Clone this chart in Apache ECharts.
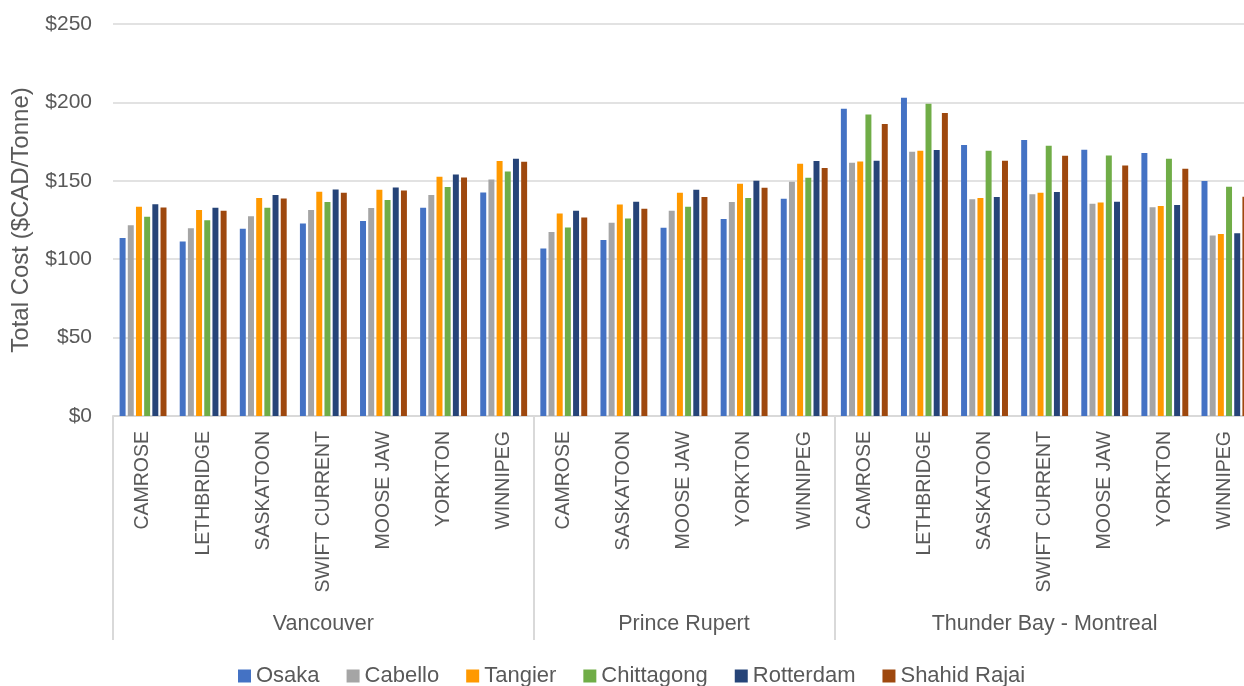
<!DOCTYPE html>
<html>
<head>
<meta charset="utf-8">
<script src="https://cdn.jsdelivr.net/npm/echarts@6/dist/echarts.min.js"></script>
<style>
  html, body { margin: 0; padding: 0; background: #fff; overflow: hidden; }
  /* a bit wider than the window: the original picture is cropped on the right */
  #chart { width: 1262px; height: 686px; }
</style>
</head>
<body>
<div id="chart"></div>
<script>
const vancouverCities = ["CAMROSE", "LETHBRIDGE", "SASKATOON", "SWIFT CURRENT", "MOOSE JAW", "YORKTON", "WINNIPEG"];
const princeRupertCities = ["CAMROSE", "SASKATOON", "MOOSE JAW", "YORKTON", "WINNIPEG"];
const thunderBayCities = ["CAMROSE", "LETHBRIDGE", "SASKATOON", "SWIFT CURRENT", "MOOSE JAW", "YORKTON", "WINNIPEG"];
const groupNames = ["Vancouver", "Prince Rupert", "Thunder Bay - Montreal"];

const yTicks = [0, 50, 100, 150, 200, 250];

const osaka      = [113.6, 111.3, 119.4, 122.8, 124.3, 132.8, 142.6, 106.8, 112.3, 120.0, 125.7, 138.5, 196.0, 203.0, 172.8, 176.0, 169.8, 167.7, 149.8];
const cabello    = [121.7, 119.8, 127.4, 131.3, 132.6, 140.9, 150.9, 117.4, 123.2, 130.9, 136.4, 149.4, 161.5, 168.5, 138.3, 141.5, 135.3, 133.2, 115.1];
const tangier    = [133.4, 131.3, 139.1, 143.0, 144.3, 152.6, 162.6, 129.1, 134.9, 142.3, 148.1, 160.9, 162.3, 169.1, 139.1, 142.3, 136.2, 134.0, 116.0];
const chittagong = [127.0, 124.9, 132.8, 136.4, 137.7, 146.0, 156.0, 120.2, 126.0, 133.4, 139.1, 151.9, 192.3, 199.1, 169.1, 172.3, 166.2, 164.0, 146.2];
const rotterdam  = [135.1, 132.8, 140.9, 144.5, 145.7, 154.0, 164.0, 130.9, 136.6, 144.3, 150.0, 162.6, 162.8, 169.6, 139.6, 142.8, 136.6, 134.5, 116.6];
const shahidRajai = [133.0, 130.9, 138.7, 142.3, 143.8, 152.1, 162.1, 126.6, 132.1, 139.6, 145.5, 158.1, 186.2, 193.2, 162.8, 166.0, 159.8, 157.7, 139.8];

const FONT = "'Liberation Sans', Arial, sans-serif";
const TEXT = "#595959";
const LINE = "#d9d9d9";

const groups = [vancouverCities, princeRupertCities, thunderBayCities];
const cities = groups.flat();

// group axis: label in middle slot of each group, ticks on the group boundaries
const groupLabels = [];
const groupStarts = [];
groups.forEach((g, i) => {
  groupStarts.push(groupLabels.length);
  g.forEach((_, j) => groupLabels.push(j === Math.floor(g.length / 2) ? groupNames[i] : ""));
});

const barSeries = (name, data, color) => ({
  name,
  type: "bar",
  data,
  itemStyle: { color },
  barGap: "37%",
  barCategoryGap: "22%",
  xAxisIndex: 0,
});

const chart = echarts.init(document.getElementById("chart"));
chart.setOption({
  animation: false,
  textStyle: { fontFamily: FONT },
  grid: { left: 113, width: 1142, top: 24, height: 392, containLabel: false },
  legend: {
    left: 238,
    top: 665,
    padding: 0,
    itemWidth: 13,
    itemHeight: 13,
    itemGap: 27,
    icon: "rect",
    textStyle: { color: TEXT, fontSize: 22, fontFamily: FONT },
  },
  xAxis: [
    {
      type: "category",
      data: cities,
      axisLine: { lineStyle: { color: LINE, width: 2 } },
      axisTick: { show: false },
      axisLabel: {
        interval: 0,
        rotate: 90,
        margin: 15,
        color: TEXT,
        fontSize: 19.5,
        fontFamily: FONT,
      },
    },
    {
      type: "category",
      position: "bottom",
      data: groupLabels,
      axisLine: { show: false },
      axisTick: {
        show: true,
        length: 224,
        interval: (index) => groupStarts.includes(index),
        lineStyle: { color: LINE, width: 2 },
      },
      axisLabel: {
        interval: 0,
        margin: 197,
        color: TEXT,
        fontSize: 21.5,
        fontFamily: FONT,
      },
    },
  ],
  yAxis: {
    type: "value",
    min: yTicks[0],
    max: yTicks[yTicks.length - 1],
    interval: 50,
    name: "Total Cost ($CAD/Tonne)",
    nameLocation: "middle",
    nameGap: 80,
    nameTextStyle: { color: TEXT, fontSize: 24, fontFamily: FONT },
    axisLine: { show: false },
    axisTick: { show: false },
    axisLabel: {
      margin: 21,
      color: TEXT,
      fontSize: 21,
      fontFamily: FONT,
      formatter: (v) => "$" + v,
    },
    splitLine: { lineStyle: { color: LINE, width: 1.5 } },
  },
  series: [
    barSeries("Osaka", osaka, "#4472c4"),
    barSeries("Cabello", cabello, "#a5a5a5"),
    barSeries("Tangier", tangier, "#ff9900"),
    barSeries("Chittagong", chittagong, "#70ad47"),
    barSeries("Rotterdam", rotterdam, "#264478"),
    barSeries("Shahid Rajai", shahidRajai, "#9e480e"),
  ],
});
</script>
</body>
</html>
